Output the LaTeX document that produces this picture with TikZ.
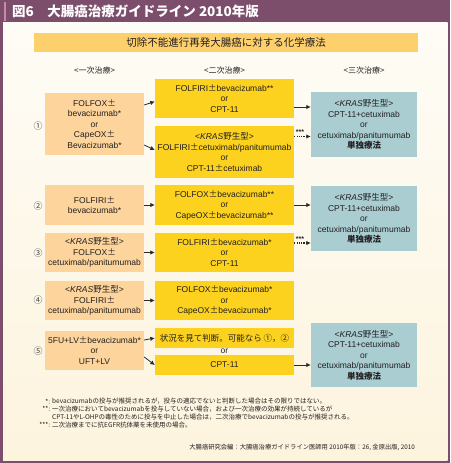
\documentclass[tikz,border=0pt]{standalone}
\usepackage{fontspec}
\setmainfont{Liberation Sans}
\newfontfamily\jp{Noto Sans CJK JP}
\usetikzlibrary{arrows.meta,calc}

\definecolor{framec}{HTML}{7D4E6C}
\definecolor{pinkacc}{HTML}{C98AA6}
\definecolor{cream}{HTML}{FDF4DE}
\definecolor{creamtop}{HTML}{FEFCF6}
\definecolor{titlebar}{HTML}{FDD06C}
\definecolor{firstc}{HTML}{FDD59C}
\definecolor{secondc}{HTML}{FCD21E}
\definecolor{thirdc}{HTML}{A9CDD1}
\definecolor{ink}{HTML}{231F20}
\definecolor{arr}{HTML}{2B2B2B}

\newcommand\PM{{\jp ±}}
\newcommand\KRAS{<\textit{KRAS}{\jp 野生型}>}

\begin{document}
\begin{tikzpicture}[x=1pt,y=-1pt,
  box/.style={inner sep=0pt, align=center, text=ink, font=\fontsize{8.5}{10.5}\selectfont},
  firstbox/.style={box, fill=firstc, minimum width=99pt},
  secondbox/.style={box, fill=secondc, minimum width=139pt},
  thirdbox/.style={box, fill=thirdc, minimum width=106pt},
  colhead/.style={inner sep=0pt, text=ink, font=\jp\fontsize{8}{9}\selectfont},
  num/.style={inner sep=0pt, text=ink!85, font=\jp\fontsize{9}{10}\selectfont},
  conn/.style={draw=arr, line width=0.8pt, -{Latex[length=4.5pt,width=4.5pt]}},
  dotconn/.style={draw=arr, line width=1.3pt, dash pattern=on 1.2pt off 1.1pt, -{Latex[length=4.5pt,width=4.5pt]}},
  stars/.style={inner sep=0pt, text=ink, font=\bfseries\fontsize{7}{7}\selectfont},
  fnmark/.style={inner sep=0pt, anchor=east, text=ink, font=\jp\fontsize{6.5}{7}\selectfont},
  fntext/.style={inner sep=0pt, anchor=west, text=ink, font=\jp\fontsize{6.5}{7}\selectfont},
]
\useasboundingbox (0,0) rectangle (450,463);
% frame and background
\fill[framec] (0,0) rectangle (450,463);
\shade[top color=creamtop, bottom color=cream] (3,22) rectangle (447.5,460);
\fill[pinkacc] (3.5,2) rectangle (6,21);
\node[anchor=west, inner sep=0pt, text=white, font=\jp\bfseries\fontsize{13.5}{14}\selectfont] (hdr) at (12,11.5) {図6　大腸癌治療ガイドライン 2010年版};

% title bar
\node[fill=titlebar, minimum width=384pt, minimum height=19pt, inner sep=0pt, text=ink, font=\jp\fontsize{10.5}{11}\selectfont] (title) at (226,42.5) {切除不能進行再発大腸癌に対する化学療法};

% column headers
\node[colhead] (h1) at (94.5,70.5) {<一次治療>};
\node[colhead] (h2) at (224.5,70.5) {<二次治療>};
\node[colhead] (h3) at (364,70.5) {<三次治療>};

% first line
\node[firstbox, minimum height=62pt] (b1) at (94.5,124) {FOLFOX\PM\\bevacizumab*\\or\\CapeOX\PM\\Bevacizumab*};
\node[firstbox, minimum height=40pt] (b2) at (94.5,205) {FOLFIRI\PM\\bevacizumab*};
\node[firstbox, minimum height=39pt] (b3) at (94.5,252.5) {\KRAS\\FOLFOX\PM\\cetuximab/panitumumab};
\node[firstbox, minimum height=39pt] (b4) at (94.5,300.5) {\KRAS\\FOLFIRI\PM\\cetuximab/panitumumab};
\node[firstbox, minimum height=39pt] (b5) at (94.5,350.5) {5FU+LV\PM bevacizumab*\\or\\UFT+LV};

% numbers
\node[num] (n1) at (38,126) {①};
\node[num] (n2) at (38,206) {②};
\node[num] (n3) at (38,253) {③};
\node[num] (n4) at (38,300.5) {④};
\node[num] (n5) at (38,351) {⑤};

% second line
\node[secondbox, minimum height=39pt] (a1) at (224.5,98.5) {FOLFIRI\PM bevacizumab**\\or\\CPT-11};
\node[secondbox, minimum height=52pt] (a2) at (224.5,152) {\KRAS\\FOLFIRI\PM cetuximab/panitumumab\\or\\CPT-11\PM cetuximab};
\node[secondbox, minimum height=40pt] (bb) at (224.5,205) {FOLFOX\PM bevacizumab**\\or\\CapeOX\PM bevacizumab**};
\node[secondbox, minimum height=39pt] (cc) at (224.5,252.5) {FOLFIRI\PM bevacizumab*\\or\\CPT-11};
\node[secondbox, minimum height=39pt] (dd) at (224.5,300.5) {FOLFOX\PM bevacizumab*\\or\\CapeOX\PM bevacizumab*};
\node[secondbox, minimum height=20pt] (e1) at (224.5,338) {{\jp 状況を見て判断。可能なら ①，②}};
\node[box] (eor) at (224.5,351.5) {or};
\node[secondbox, minimum height=20pt] (e2) at (224.5,365) {CPT-11};

% third line
\node[thirdbox, minimum height=65pt] (t1) at (364,124.5) {\KRAS\\CPT-11+cetuximab\\or\\cetuximab/panitumumab\\{\jp\bfseries 単独療法}};
\node[thirdbox, minimum height=65pt] (t2) at (364,218.5) {\KRAS\\CPT-11+cetuximab\\or\\cetuximab/panitumumab\\{\jp\bfseries 単独療法}};
\node[thirdbox, minimum height=64pt] (t3) at (364,355) {\KRAS\\CPT-11+cetuximab\\or\\cetuximab/panitumumab\\{\jp\bfseries 単独療法}};

% connectors first -> second
\draw[conn] ($(b1.east)+(0,-19)$) -- ($(a1.west)+(0,3)$);
\draw[conn] ($(b1.east)+(0,21)$) -- ($(a2.west)+(0,-2)$);
\draw[conn] (b2.east) -- (bb.west);
\draw[conn] (b3.east) -- (cc.west);
\draw[conn] (b4.east) -- (dd.west);
\draw[conn] ($(b5.east)+(0,-10.5)$) -- (e1.west);
\draw[conn] ($(b5.east)+(0,6.5)$) -- (e2.west);

% connectors second -> third
\draw[conn] ($(a1.east)+(0,8.5)$) -- ($(t1.west)+(0,-17.5)$);
\draw[dotconn] ($(a2.east)+(0,-15.5)$) -- ($(t1.west)+(0,12)$)
  node[stars, pos=0, anchor=base west, xshift=1pt, yshift=2pt] {***};
\draw[conn] (bb.east) -- ($(t2.west)+(0,-13.5)$);
\draw[dotconn] ($(cc.east)+(0,-9.5)$) -- ($(t2.west)+(0,24.5)$)
  node[stars, pos=0, anchor=base west, xshift=1pt, yshift=2pt] {***};
\draw[conn] (e2.east) -- ($(t3.west)+(0,10)$);

% footnotes
\node[fnmark] (m1) at (50.5,401.5) {*:};
\node[fntext] (f1) at (52,401.5) {bevacizumabの投与が推奨されるが，投与の適応でないと判断した場合はその限りではない。};
\node[fnmark] (m2) at (50.5,409) {**:};
\node[fntext] (f2) at (52,409) {一次治療においてbevacizumabを投与していない場合，および一次治療の効果が持続しているが};
\node[fntext] (f3) at (52,417) {CPT-11やL-OHPの毒性のために投与を中止した場合は，二次治療でbevacizumabの投与が推奨される。};
\node[fnmark] (m4) at (50.5,425) {***:};
\node[fntext] (f4) at (52,425) {二次治療までに抗EGFR抗体薬を未使用の場合。};

% source
\node[inner sep=0pt, anchor=east, text=ink, font=\jp\fontsize{6.3}{7}\selectfont] (src) at (415,447) {大腸癌研究会編：大腸癌治療ガイドライン医師用 2010年版：26, 金原出版, 2010};
\end{tikzpicture}
\end{document}
